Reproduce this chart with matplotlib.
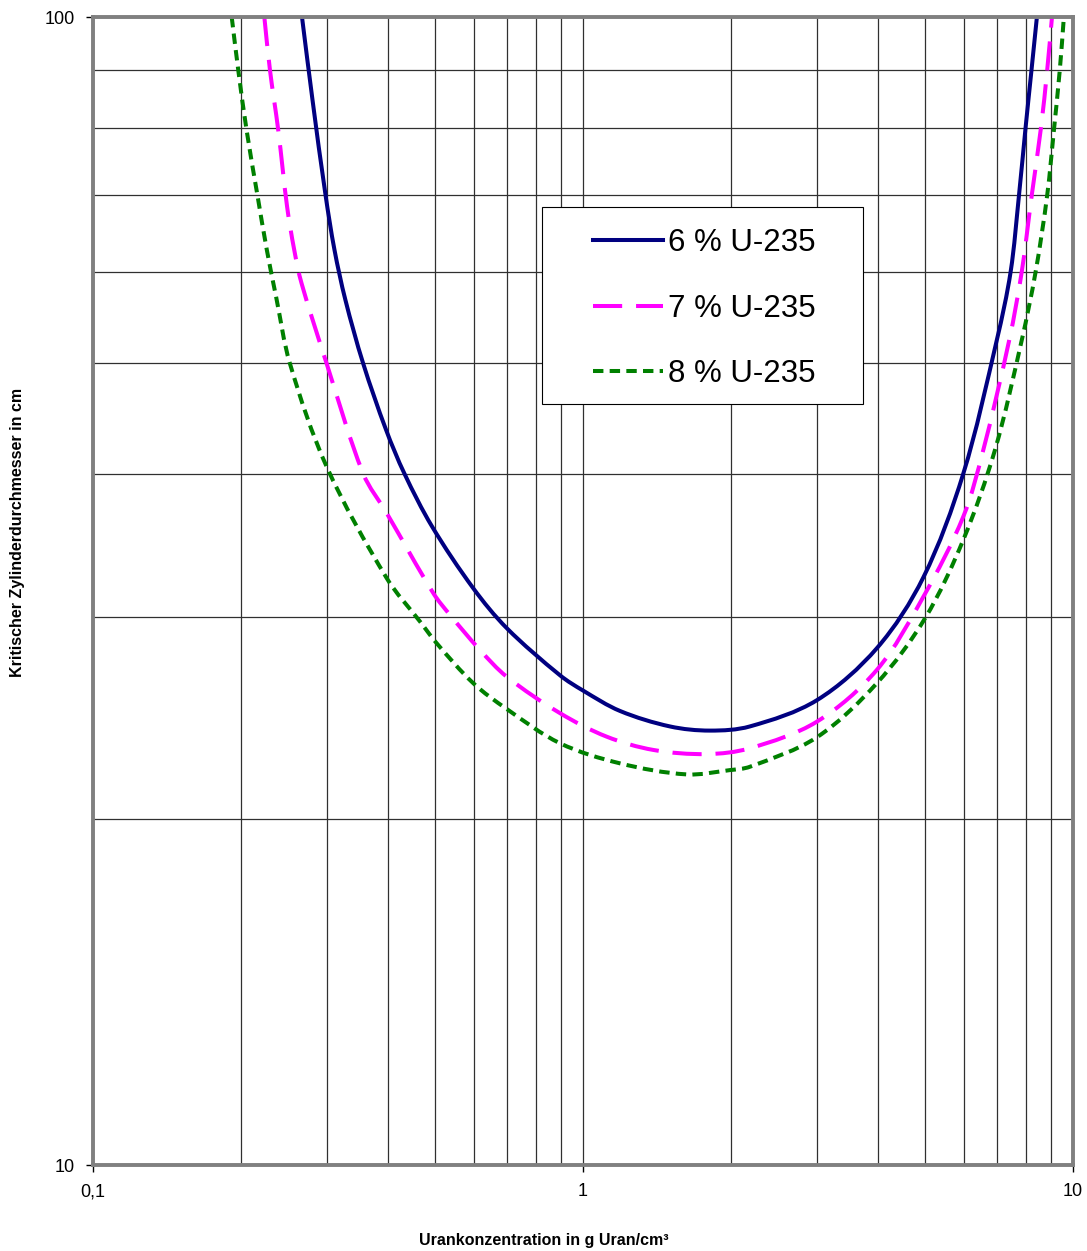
import matplotlib
matplotlib.use("Agg")
import numpy as np
import matplotlib.pyplot as plt
from matplotlib.ticker import FixedLocator, FixedFormatter, NullFormatter
from matplotlib.patches import Rectangle, PathPatch
from matplotlib.path import Path
from matplotlib.lines import Line2D

# ---------------- data ----------------
x_6 = [0.267, 0.2805, 0.2982, 0.311, 0.3274, 0.356, 0.3963, 0.4323, 0.4918,
       0.597, 0.699, 0.898, 1.00, 1.19, 1.505, 1.816, 2.19,
       3.00, 3.98, 4.95, 5.97, 6.99, 7.46, 7.76, 8.00, 8.23, 8.44]
y_6 = [100, 84.7, 70.0, 62.7, 56.7, 49.9, 43.7, 40.0, 36.0,
       31.8, 29.35, 26.7, 25.9, 24.86, 24.1, 23.9, 24.1,
       25.4, 28.2, 32.5, 40.0, 52.3, 60.0, 70.0, 80.0, 90.0, 100]

x_7 = [0.2237, 0.2297, 0.2388, 0.2489, 0.2574, 0.2665, 0.2998, 0.3561, 0.3977,
       0.495, 0.5353, 0.6164, 0.6987, 0.8977, 1.118, 1.392, 1.788, 2.192,
       3.0, 3.977, 4.95, 5.97, 6.56, 7.41, 7.86, 8.24, 8.60, 8.86, 9.06]
y_7 = [100, 89.9, 79.7, 68.4, 62.7, 58.6, 49.9, 40.0, 36.96,
       31.48, 30.14, 28.09, 26.63, 24.75, 23.61, 22.99, 22.80, 23.07,
       24.33, 26.99, 31.26, 36.70, 41.96, 52.3, 60.0, 70.0, 80.0, 90.0, 100]

x_8 = [0.1919, 0.1979, 0.2058, 0.2165, 0.2263, 0.2364, 0.2523, 0.2998, 0.3977,
       0.465, 0.503, 0.5973, 0.6987, 0.8977, 1.19, 1.627, 1.995, 2.192,
       3.0, 3.977, 4.99, 5.97, 6.93, 7.86, 8.39, 8.86, 9.15, 9.40, 9.58]
y_8 = [100, 89.9, 79.7, 70.0, 62.7, 57.06, 49.9, 40.58, 32.44,
       29.74, 28.47, 26.28, 24.96, 23.30, 22.38, 21.89, 22.08, 22.23,
       23.58, 26.28, 29.94, 35.03, 41.96, 52.3, 60.0, 70.0, 80.0, 90.0, 100]

labels = ["6 % U-235", "7 % U-235", "8 % U-235"]

x_major = [0.1, 1, 10]
x_major_labels = ["0,1", "1", "10"]
x_minor = [0.2, 0.3, 0.4, 0.5, 0.6, 0.7, 0.8, 0.9, 2, 3, 4, 5, 6, 7, 8, 9]
y_major = [10, 100]
y_major_labels = ["10", "100"]
y_minor = [20, 30, 40, 50, 60, 70, 80, 90]

x_title = "Urankonzentration in g Uran/cm³"
y_title = "Kritischer Zylinderdurchmesser in cm"


def smooth_path(xs, ys, sx=490.0, sy=1148.0):
    """Smoothed line (like a spreadsheet 'smoothed line') through the data
    points: cubic Bezier segments built in log space, returned in data units."""
    X = np.log10(np.asarray(xs, float)) * sx
    Y = np.log10(np.asarray(ys, float)) * sy
    P = np.column_stack([X, Y])
    n = len(P)
    d = np.hypot(*np.diff(P, axis=0).T)
    T = np.zeros_like(P)
    for i in range(n):
        if i == 0:
            T[i] = (P[1] - P[0]) / d[0]
        elif i == n - 1:
            T[i] = (P[-1] - P[-2]) / d[-1]
        else:
            T[i] = (P[i + 1] - P[i - 1]) / (d[i - 1] + d[i])
    verts = [P[0]]
    codes = [Path.MOVETO]
    for i in range(n - 1):
        c1 = P[i] + T[i] * d[i] / 3.0
        c2 = P[i + 1] - T[i + 1] * d[i] / 3.0
        verts += [c1, c2, P[i + 1]]
        codes += [Path.CURVE4] * 3
    V = np.asarray(verts)
    V = np.column_stack([10 ** (V[:, 0] / sx), 10 ** (V[:, 1] / sy)])
    return Path(V, codes)


# ---------------- figure ----------------
plt.rcParams["font.family"] = ["Liberation Sans", "DejaVu Sans"]
plt.rcParams["lines.scale_dashes"] = False

W, H = 1087, 1251
fig = plt.figure(figsize=(W / 100, H / 100), dpi=100)
ax = fig.add_axes([93 / W, 1 - 1165 / H, 980 / W, 1148 / H])
ax.set_xscale("log")
ax.set_yscale("log")

styles = [
    dict(color="#000080", lw=2.9, ls="-"),
    dict(color="#FF00FF", lw=2.9, ls=(0, (21, 10))),
    dict(color="#008000", lw=2.9, ls=(0, (7.5, 4.5))),
]
handles = []
for xs, ys, st, lab in zip([x_6, x_7, x_8], [y_6, y_7, y_8], styles, labels):
    pp = PathPatch(smooth_path(xs, ys), fill=False, edgecolor=st["color"],
                   lw=st["lw"], linestyle=st["ls"], zorder=3,
                   capstyle="butt", joinstyle="round")
    ax.add_patch(pp)
    handles.append(Line2D([], [], color=st["color"], lw=st["lw"], linestyle=st["ls"]))

ax.set_xlim(0.1, 10)
ax.set_ylim(10, 100)

ax.xaxis.set_major_locator(FixedLocator(x_major))
ax.xaxis.set_major_formatter(FixedFormatter(x_major_labels))
ax.xaxis.set_minor_locator(FixedLocator(x_minor))
ax.xaxis.set_minor_formatter(NullFormatter())
ax.yaxis.set_major_locator(FixedLocator(y_major))
ax.yaxis.set_major_formatter(FixedFormatter(y_major_labels))
ax.yaxis.set_minor_locator(FixedLocator(y_minor))
ax.yaxis.set_minor_formatter(NullFormatter())

ax.tick_params(which="minor", length=0)
ax.tick_params(which="major", length=5, width=1, direction="out",
               labelsize=13, color="black", pad=8)
ax.grid(True, which="both", color="#303030", lw=0.9)
ax.set_axisbelow(True)

for s in ax.spines.values():
    s.set_color("#808080")
    s.set_linewidth(2.8)
    s.set_zorder(4)

# legend box
x0 = (542 - 93) / 980
x1 = (863 - 93) / 980
yt = (1165 - 207) / 1148
yb = (1165 - 404) / 1148
ax.add_patch(Rectangle((x0, yb), x1 - x0, yt - yb, transform=ax.transAxes,
                       facecolor="white", edgecolor="black", lw=0.8, zorder=5))
leg = ax.legend(handles, labels, loc="upper left",
                bbox_to_anchor=((593 - 93) / 980, (1165 - 228) / 1148),
                fontsize=22.5, frameon=False, handlelength=2.24, handletextpad=0.16,
                labelspacing=1.14, borderpad=0, borderaxespad=0)
leg.set_zorder(6)

fig.text(544 / W, 1 - 1240 / H, x_title, ha="center", va="center",
         fontsize=11.5, fontweight="bold")
fig.text(18 / W, 1 - 532 / H, y_title, ha="center", va="center",
         rotation=90, fontsize=11.5, fontweight="bold")

fig.savefig("out.png", dpi=100)
